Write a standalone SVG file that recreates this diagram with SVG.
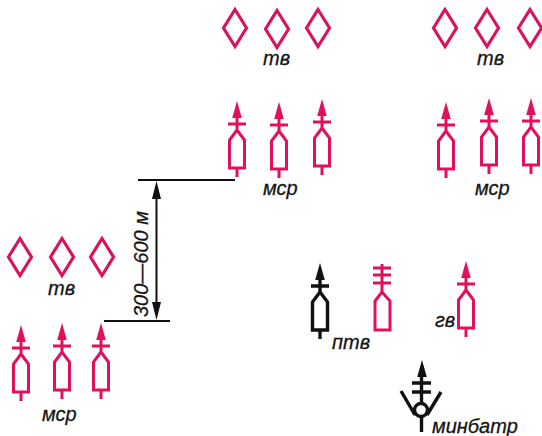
<svg xmlns="http://www.w3.org/2000/svg" width="542" height="436" viewBox="0 0 542 436">
<style>
.m{fill:none;stroke:#e0105f;stroke-width:3}
.k{fill:none;stroke:#111;stroke-width:3.4}
.mh{fill:#e0105f}
.kh{fill:#111}
.d{fill:none;stroke:#d8145e;stroke-width:3.2}
.l{fill:none;stroke:#111;stroke-width:2}
text{font-family:"Liberation Sans",Arial,sans-serif;font-style:italic;font-size:20px;fill:#151515;stroke:#151515;stroke-width:.3}
</style>
<defs>
<path id="dia" d="M0-18.500 11.500 0 0 18.500-11.500 0Z"/>
<path id="hd" d="M0 0 4.800 17H-4.800Z"/>
<path id="veh" d="M0 14V29M-9 23H9M0 29-7.500 39V67H7.500V39L0 29M0 67V76"/>
</defs>
<rect width="542" height="436" fill="#fff"/>
<g id="connectors">
<path class="l" d="M138 180H235M104 321H170M156.500 190V312"/>
<path class="kh" d="M156.500 181 161 199H152ZM156.500 320 161 302H152Z"/>
</g>
<g id="tv-top-1"><use href="#dia" class="d" x="235" y="28"/><use href="#dia" class="d" x="277" y="29"/><use href="#dia" class="d" x="318" y="28"/><text x="263" y="65">тв</text></g>
<g id="tv-top-2"><use href="#dia" class="d" x="445" y="28"/><use href="#dia" class="d" x="487" y="28"/><use href="#dia" class="d" x="530" y="28"/><text x="477" y="65">тв</text></g>
<g id="tv-left"><use href="#dia" class="d" x="20" y="257"/><use href="#dia" class="d" x="62" y="257"/><use href="#dia" class="d" x="102" y="257"/><text x="48" y="295">тв</text></g>
<g id="msr-1"><use href="#hd" class="mh" x="237" y="101"/><use href="#veh" class="m" x="237" y="101"/><use href="#hd" class="mh" x="279" y="102"/><use href="#veh" class="m" x="279" y="102"/><use href="#hd" class="mh" x="322" y="99"/><use href="#veh" class="m" x="322" y="99"/><text x="263" y="195">мср</text></g>
<g id="msr-2"><use href="#hd" class="mh" x="446" y="102"/><use href="#veh" class="m" x="446" y="102"/><use href="#hd" class="mh" x="489" y="98"/><use href="#veh" class="m" x="489" y="98"/><use href="#hd" class="mh" x="531" y="98"/><use href="#veh" class="m" x="531" y="98"/><text x="475" y="195">мср</text></g>
<g id="msr-3"><use href="#hd" class="mh" x="21" y="325"/><use href="#veh" class="m" x="21" y="325"/><use href="#hd" class="mh" x="62" y="323"/><use href="#veh" class="m" x="62" y="323"/><use href="#hd" class="mh" x="101" y="323"/><use href="#veh" class="m" x="101" y="323"/><text x="42" y="421">мср</text></g>
<g id="ptv"><use href="#hd" class="kh" x="320" y="263"/><use href="#veh" class="k" x="320" y="263"/><text x="332" y="349">птв</text></g>
<g id="rocket"><path class="m" d="M382 264V292M373 268H391M373 275H391M373 283H391M382 292 375 301V330H390V301L382 292"/></g>
<g id="gv"><use href="#hd" class="mh" x="466" y="261"/><use href="#veh" class="m" x="466" y="261"/><text x="435" y="327">гв</text></g>
<g id="minbatr"><use href="#hd" class="kh" x="422" y="360"/><path class="k" d="M421.500 374V403M412 383H431M412 392H431M421.500 416V432"/><circle class="k" cx="421" cy="410" r="6.500"/><path class="k" d="M401 391 415 415M441 392 427 415"/><text x="432" y="433">минбатр</text></g>
<text id="distance" transform="translate(148 317) rotate(-90)">300—600 м</text>
</svg>
